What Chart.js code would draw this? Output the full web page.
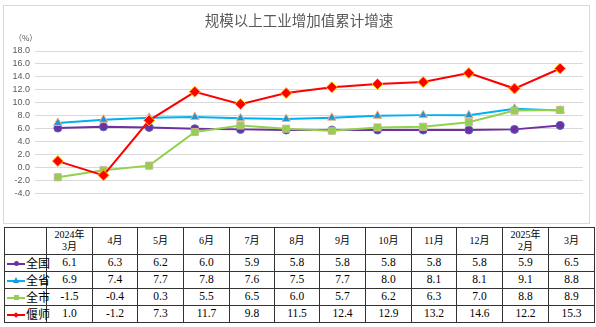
<!DOCTYPE html>
<html><head><meta charset="utf-8">
<script src="https://cdn.jsdelivr.net/npm/chart.js@4.4.1/dist/chart.umd.min.js"></script>
<style>
html,body{margin:0;padding:0;background:#fff;}
body{width:596px;height:327px;overflow:hidden;position:relative;}
#box{position:absolute;left:3px;top:5px;width:587px;height:219px;border:1px solid #d9d9d9;box-sizing:border-box;}
#cv{position:absolute;left:0;top:0;}
#title{position:absolute;left:0;width:598px;top:13px;text-align:center;font-family:"Noto Sans CJK SC",sans-serif;font-size:14.5px;line-height:1;color:#595959;}
#unit{position:absolute;left:14px;top:34px;font-family:"Noto Sans CJK SC",sans-serif;font-size:8px;line-height:1;color:#595959;}
table{position:absolute;left:4px;top:227px;width:590px;border-collapse:collapse;table-layout:fixed;font-family:"Liberation Serif","Noto Sans CJK SC",serif;color:#000;}
td{border:1px solid #333;text-align:center;padding:0;font-size:11.5px;line-height:1;}
tr.h td{height:26px;font-size:10px;line-height:12px;}
tr.d td{height:16px;}
td.lab{text-align:left;font-family:"Noto Sans CJK SC",sans-serif;font-size:12px;white-space:nowrap;}
.sw{display:inline-block;position:relative;width:18px;height:10px;margin:0 1px 0 2px;vertical-align:-1px;}
.sw .ln{position:absolute;left:0;right:0;top:4px;height:2px;}
.sw .mk{position:absolute;left:7px;top:2px;width:5px;height:5px;}
</style>
</head><body>
<div id="box"></div>
<canvas id="cv" width="596" height="225"></canvas>
<div id="title">规模以上工业增加值累计增速</div>
<div id="unit">（%）</div>
<table id="tbl"></table>
<script>
const categories = ['2024年\n3月','4月','5月','6月','7月','8月','9月','10月','11月','12月','2025年\n2月','3月'];
const seriesNames = ['全国','全省','全市','偃师'];
const national = [6.1,6.3,6.2,6.0,5.9,5.8,5.8,5.8,5.8,5.8,5.9,6.5];
const province = [6.9,7.4,7.7,7.8,7.6,7.5,7.7,8.0,8.1,8.1,9.1,8.8];
const city     = [-1.5,-0.4,0.3,5.5,6.5,6.0,5.7,6.2,6.3,7.0,8.8,8.9];
const yanshi   = [1.0,-1.2,7.3,11.7,9.8,11.5,12.4,12.9,13.2,14.6,12.2,15.3];
const yMin = -4, yMax = 18, yStep = 2;

const seriesData = [national, province, city, yanshi];
const styles = [
  {line:'#7030A0', fill:'#7030A0', border:'#4F62C4', shape:'circle', r:4},
  {line:'#00B0F0', fill:'#1F96D4', border:'#F4B183', shape:'triangle', r:5},
  {line:'#92D050', fill:'#92D050', border:'#C8B68C', shape:'rect', r:5},
  {line:'#FF0000', fill:'#FF0000', border:'#FFC000', shape:'rectRot', r:5.5}
];
const orders = [3,2,1,0];

new Chart(document.getElementById('cv'), {
  type:'line',
  data:{
    labels: categories.map(c=>c.replace('\n','')),
    datasets: seriesNames.map((n,i)=>({
      label:n, data:seriesData[i], order:orders[i],
      borderColor:styles[i].line, borderWidth:2,
      pointStyle:styles[i].shape, pointRadius:styles[i].r,
      pointBackgroundColor:styles[i].fill, pointBorderColor:styles[i].border,
      pointBorderWidth:1, tension:0, fill:false
    }))
  },
  options:{
    responsive:false, animation:false,
    layout:{padding:{top:51,bottom:31.5,left:0,right:13}},
    plugins:{legend:{display:false},title:{display:false},tooltip:{enabled:false}},
    scales:{
      x:{display:false, offset:true, grid:{offset:true}},
      y:{min:yMin,max:yMax,
        afterFit:(s)=>{s.width=35;},
        border:{display:false},
        grid:{color:'#d9d9d9',lineWidth:1,drawTicks:false},
        ticks:{stepSize:yStep,autoSkip:false,padding:5,color:'#595959',font:{family:'"Liberation Sans", sans-serif',size:9},
          callback:(v)=>Number(v).toFixed(1)}
      }
    }
  }
});

// table built from the same arrays
const tbl = document.getElementById('tbl');
const widths = [42,46,45,46,46,45,45,46,46,45,46,46,46];
let html = '<colgroup>' + widths.map(w=>'<col style="width:'+w+'px">').join('') + '</colgroup>';
html += '<tr class="h"><td></td>' + categories.map(c=>'<td>'+c.replace('\n','<br>')+'</td>').join('') + '</tr>';
const mk = (i)=>{
  const s = styles[i];
  if (s.shape==='circle') return '<span class="mk" style="background:'+s.fill+';border-radius:50%"></span>';
  if (s.shape==='triangle') return '<span class="mk" style="width:0;height:0;top:1px;left:6px;border-left:3px solid transparent;border-right:3px solid transparent;border-bottom:6px solid '+s.fill+'"></span>';
  if (s.shape==='rect') return '<span class="mk" style="background:'+s.fill+'"></span>';
  return '<span class="mk" style="background:'+s.fill+';transform:rotate(45deg);width:4px;height:4px;top:3px;"></span>';
};
seriesNames.forEach((n,i)=>{
  html += '<tr class="d"><td class="lab"><span class="sw"><span class="ln" style="background:'+styles[i].line+'"></span>'+mk(i)+'</span>'+n+'</td>' +
    seriesData[i].map(v=>'<td>'+v.toFixed(1)+'</td>').join('') + '</tr>';
});
tbl.innerHTML = html;
</script>
</body></html>
